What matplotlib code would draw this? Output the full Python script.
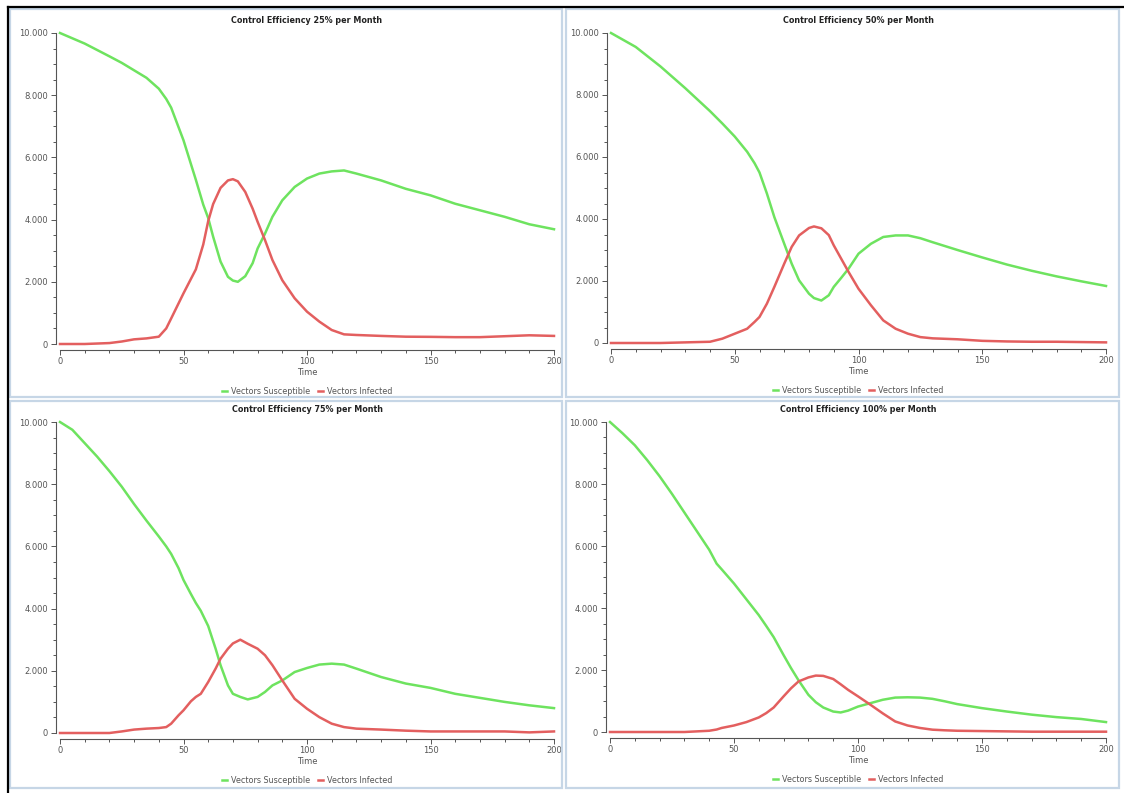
import matplotlib
matplotlib.use("Agg")
import matplotlib.pyplot as plt
from matplotlib.patches import Rectangle
from matplotlib.lines import Line2D
from matplotlib.ticker import MultipleLocator, FuncFormatter

# values (time, vectors susceptible, vectors infected)
t25 = [0, 10, 20, 25, 30, 35, 40, 43, 45, 50, 55, 58, 60, 62, 65, 68, 70, 72, 75, 78,
       80, 83, 86, 90, 95, 100, 105, 110, 115, 120, 130, 140, 150, 160, 170, 180, 190, 200]
s25 = [10000, 9660, 9250, 9040, 8800, 8560, 8210, 7880, 7600, 6550, 5280, 4480, 4050, 3450,
       2650, 2160, 2040, 2000, 2180, 2600, 3070, 3550, 4090, 4620, 5050, 5320, 5480, 5550,
       5580, 5480, 5260, 4990, 4780, 4510, 4300, 4090, 3850, 3690]
i25 = [0, 0, 30, 80, 150, 180, 235, 500, 820, 1630, 2400, 3200, 3950, 4500, 5020, 5260,
       5300, 5230, 4890, 4350, 3930, 3340, 2700, 2050, 1470, 1040, 720, 450, 310, 290, 260,
       235, 230, 220, 220, 250, 280, 260]

t50 = [0, 10, 20, 30, 40, 45, 50, 55, 58, 60, 63, 66, 70, 73, 76, 80, 82, 85, 88, 90,
       93, 96, 100, 105, 110, 115, 120, 125, 130, 140, 150, 160, 170, 180, 190, 200]
s50 = [10000, 9550, 8920, 8220, 7480, 7080, 6660, 6170, 5800, 5500, 4820, 4060, 3200, 2560,
       2020, 1590, 1450, 1370, 1540, 1810, 2100, 2400, 2880, 3200, 3420, 3470, 3470, 3380,
       3250, 3000, 2760, 2530, 2330, 2150, 1990, 1840]
i50 = [0, 0, 0, 20, 40, 140, 300, 460, 680, 840, 1270, 1810, 2560, 3100, 3470, 3710, 3760,
       3700, 3480, 3150, 2720, 2290, 1750, 1220, 730, 460, 300, 190, 150, 120, 70, 50, 40,
       40, 30, 20]

t75 = [0, 5, 10, 15, 20, 25, 30, 35, 40, 43, 45, 48, 50, 53, 55, 57, 60, 63, 65, 68, 70,
       73, 76, 80, 83, 86, 90, 95, 100, 105, 110, 115, 120, 130, 140, 150, 160, 170, 180,
       190, 200]
s75 = [10000, 9750, 9320, 8890, 8420, 7920, 7360, 6830, 6320, 6000, 5760, 5300, 4920, 4470,
       4180, 3930, 3440, 2710, 2180, 1530, 1260, 1160, 1080, 1160, 1320, 1530, 1690, 1960,
       2090, 2200, 2230, 2200, 2070, 1800, 1590, 1450, 1260, 1130, 1000, 890, 800]
i75 = [0, 0, 0, 0, 0, 50, 110, 140, 160, 190, 300, 570, 730, 1020, 1160, 1260, 1640, 2070,
       2390, 2710, 2880, 3000, 2870, 2710, 2500, 2180, 1690, 1100, 780, 510, 300, 190, 140,
       110, 75, 50, 50, 50, 50, 20, 50]

t100 = [0, 5, 10, 15, 20, 25, 30, 35, 40, 43, 45, 50, 55, 60, 63, 66, 70, 73, 76, 80, 83,
        86, 90, 93, 96, 100, 105, 110, 115, 120, 125, 130, 135, 140, 150, 160, 170, 180,
        190, 200]
s100 = [10000, 9640, 9250, 8770, 8250, 7680, 7080, 6480, 5880, 5430, 5250, 4790, 4280, 3770,
        3420, 3060, 2480, 2060, 1670, 1200, 960, 790, 660, 630, 690, 820, 930, 1040, 1110,
        1120, 1110, 1070, 990, 900, 770, 660, 560, 480, 420, 320]
i100 = [0, 0, 0, 0, 0, 0, 0, 20, 40, 80, 130, 210, 320, 470, 610, 790, 1150, 1410, 1630,
        1760, 1820, 1810, 1710, 1540, 1360, 1150, 880, 600, 340, 210, 130, 75, 55, 40, 30,
        20, 10, 10, 10, 10]

titles = ["Control Efficiency 25% per Month", "Control Efficiency 50% per Month",
          "Control Efficiency 75% per Month", "Control Efficiency 100% per Month"]
series = [(t25, s25, i25), (t50, s50, i50), (t75, s75, i75), (t100, s100, i100)]

W, H = 1124, 793
GREEN = "#6ee35f"
RED = "#e35f5f"

# pixel boxes: axes (left, right, top, bottom) and panel frame
axes_px = [(60, 554, 33, 344), (611, 1106, 33, 343), (60, 554, 422, 733), (610, 1106, 422, 732)]
frames_px = [(10, 562, 9, 397), (566, 1119, 9, 397), (10, 562, 401, 788), (566, 1119, 401, 788)]


def fx(px):
    return px / W


def fy(py):
    return 1 - py / H


fig = plt.figure(figsize=(W / 100, H / 100), dpi=100)
fig.patch.set_facecolor("white")

# outer black edge on top and left
fig.add_artist(Line2D([fx(8), 1], [fy(7), fy(7)], color="black", lw=1.6))
fig.add_artist(Line2D([fx(8), fx(8)], [fy(7), 0], color="black", lw=1.6))

fmt = FuncFormatter(lambda v, p: f"{int(v):,}".replace(",", "."))

for k in range(4):
    l, r, t, b = frames_px[k]
    fig.add_artist(Rectangle((fx(l), fy(b)), fx(r) - fx(l), fy(t) - fy(b),
                             transform=fig.transFigure, fill=False,
                             edgecolor="#c6d6e6", lw=1.6))

    l, r, t, b = axes_px[k]
    ax = fig.add_axes([fx(l), fy(b), fx(r) - fx(l), fy(t) - fy(b)])
    tt, sus, inf = series[k]
    ax.plot(tt, sus, color=GREEN, lw=1.8, clip_on=False, label="Vectors Susceptible")
    ax.plot(tt, inf, color=RED, lw=1.8, clip_on=False, label="Vectors Infected")
    ax.set_xlim(0, 200)
    ax.set_ylim(0, 10000)

    for s in ["top", "right"]:
        ax.spines[s].set_visible(False)
    ax.spines["left"].set_position(("outward", 3))
    ax.spines["bottom"].set_position(("outward", 4))
    ax.spines["left"].set_bounds(0, 10000)
    ax.spines["bottom"].set_bounds(0, 200)
    for s in ["left", "bottom"]:
        ax.spines[s].set_color("#555555")
        ax.spines[s].set_linewidth(0.8)

    ax.xaxis.set_major_locator(MultipleLocator(50))
    ax.xaxis.set_minor_locator(MultipleLocator(10))
    ax.yaxis.set_major_locator(MultipleLocator(2000))
    ax.yaxis.set_minor_locator(MultipleLocator(500))
    ax.yaxis.set_major_formatter(fmt)
    ax.tick_params(which="major", length=3.5, width=0.7, color="#555555",
                   labelsize=6, labelcolor="#555555", pad=2)
    ax.tick_params(which="minor", length=2, width=0.7, color="#555555")

    ax.set_title(titles[k], fontsize=5.8, fontweight="bold", color="#222222", pad=7)
    ax.set_xlabel("Time", fontsize=6, color="#555555", labelpad=1)
    ax.legend(loc="upper center", bbox_to_anchor=(0.5, -0.115), ncol=2, frameon=False,
              fontsize=5.8, handlelength=0.6, handletextpad=0.5, columnspacing=1.0,
              labelcolor="#555555")

fig.savefig("out.png", dpi=100)
